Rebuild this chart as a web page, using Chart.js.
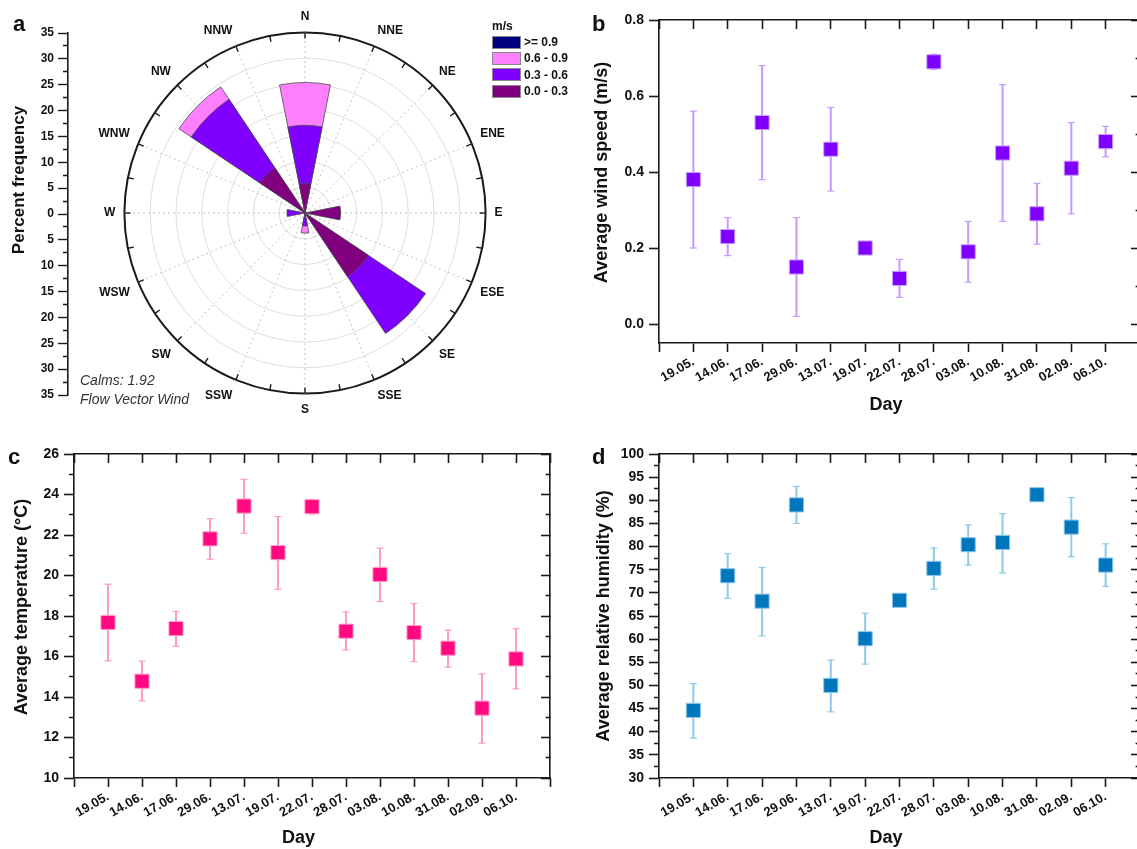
<!DOCTYPE html>
<html>
<head>
<meta charset="utf-8">
<title>Wind rose, wind speed, temperature and humidity</title>
<script src="https://cdn.jsdelivr.net/npm/chart.js@4.4.1/dist/chart.umd.min.js"></script>
<style>
  html, body { margin: 0; padding: 0; background: #fff; }
  body { width: 1137px; height: 849px; position: relative; overflow: hidden;
         font-family: "Liberation Sans", Arial, sans-serif; color: #111; }
  canvas { position: absolute; }
  .panel { position: absolute; font-size: 22px; font-weight: bold; line-height: 22px; }
  .note { position: absolute; left: 80px; top: 371px; font-size: 14px; font-style: italic;
          line-height: 19px; color: #333; }
  #roseLegend { position: absolute; left: 492px; top: 19px; font-size: 12px; font-weight: bold; }
  #roseLegend .ttl { height: 15px; line-height: 14px; }
  #roseLegend .row { height: 16.3px; display: flex; align-items: center; }
  #roseLegend .sw { display: inline-block; width: 29px; height: 13px; border: 1px solid #8a8a8a;
                    margin-right: 3px; box-sizing: border-box; }
</style>
</head>
<body>
<canvas id="rose" width="610" height="430" style="left:0;top:0"></canvas>
<canvas id="roseAxis" width="80" height="430" style="left:0;top:0"></canvas>
<canvas id="chartB" width="600" height="430" style="left:560px;top:0"></canvas>
<canvas id="chartC" width="570" height="419" style="left:0;top:430px"></canvas>
<canvas id="chartD" width="600" height="419" style="left:560px;top:430px"></canvas>

<div class="panel" style="left:13px;top:13px">a</div>
<div class="panel" style="left:592px;top:13px">b</div>
<div class="panel" style="left:8px;top:446px">c</div>
<div class="panel" style="left:592px;top:446px">d</div>
<div class="note">Calms: 1.92<br>Flow Vector Wind</div>
<div id="roseLegend"></div>

<script>
// ---- wind rose (percent frequency per direction and speed class) ----
const directions = ['N','NNE','NE','ENE','E','ESE','SE','SSE','S','SSW','SW','WSW','W','WNW','NW','NNW'];
const speedClasses = ['0.0 - 0.3', '0.3 - 0.6', '0.6 - 0.9', '>= 0.9'];
const speed00to03 = [5.7, 0, 0, 0, 6.9, 0, 14.8, 0, 0,   0, 0, 0, 0,   0, 10.5, 0];
const speed03to06 = [11.3, 0, 0, 0, 0,  0, 13.3, 0, 2.5, 0, 0, 0, 3.5, 0, 16.0, 0];
const speed06to09 = [8.3, 0, 0, 0, 0,   0, 0,    0, 1.4, 0, 0, 0, 0,   0, 2.9,  0];
const speed09up   = [0, 0, 0, 0, 0,     0, 0,    0, 0,   0, 0, 0, 0,   0, 0,    0];
const roseColors  = ['#800080', '#8000ff', '#ff80ff', '#000080'];

// ---- daily series ----
const days = ['19.05.','14.06.','17.06.','29.06.','13.07.','19.07.','22.07.','28.07.','03.08.','10.08.','31.08.','02.09.','06.10.'];

const windMean = [0.38, 0.23, 0.53, 0.15, 0.46, 0.20, 0.12, 0.69, 0.19, 0.45, 0.29, 0.41, 0.48];
const windLow  = [0.20, 0.18, 0.38, 0.02, 0.35, 0.20, 0.07, 0.67, 0.11, 0.27, 0.21, 0.29, 0.44];
const windHigh = [0.56, 0.28, 0.68, 0.28, 0.57, 0.20, 0.17, 0.71, 0.27, 0.63, 0.37, 0.53, 0.52];

const tempMean = [17.68, 14.78, 17.38, 21.81, 23.43, 21.13, 23.40, 17.25, 20.05, 17.18, 16.41, 13.45, 15.88];
const tempLow  = [15.79, 13.81, 16.51, 20.80, 22.09, 19.32, 23.04, 16.33, 18.71, 15.75, 15.47, 11.72, 14.40];
const tempHigh = [19.57, 15.77, 18.22, 22.81, 24.75, 22.91, 23.73, 18.20, 21.35, 18.62, 17.30, 15.14, 17.37];

const humMean = [44.6, 73.7, 68.2, 89.0, 50.0, 60.1, 68.4, 75.3, 80.4, 80.9, 91.2, 84.2, 76.0];
const humLow  = [38.6, 68.8, 60.7, 85.0, 44.3, 54.6, 67.0, 70.8, 76.0, 74.3, 91.2, 77.8, 71.4];
const humHigh = [50.4, 78.5, 75.5, 93.0, 55.5, 65.6, 69.7, 79.7, 84.7, 87.1, 91.2, 90.6, 80.6];

const FONT = '"Liberation Sans", Arial, sans-serif';
const INK = '#111';
const FRAME = '#1a1a1a';
Chart.defaults.font.family = FONT;
Chart.defaults.color = INK;

// stacked rose: each ring is drawn from the centre out to the running total
const speedRows = [speed00to03, speed03to06, speed06to09, speed09up];
const roseTotals = speedRows.map((row, k) => row.map((v, i) => {
  if (!v) return 0;
  let sum = 0;
  for (let j = 0; j <= k; j++) sum += speedRows[j][i];
  return sum;
}));

const roseDecor = {
  id: 'roseDecor',
  beforeDatasetsDraw(chart) {
    const r = chart.scales.r, ctx = chart.ctx, n = directions.length;
    ctx.save();
    ctx.strokeStyle = '#c4c4c4';
    ctx.lineWidth = 1;
    ctx.setLineDash([2, 3]);
    for (let i = 0; i < n; i++) {
      const p = r.getPointPosition(i, r.drawingArea, Math.PI / n);
      ctx.beginPath();
      ctx.moveTo(r.xCenter, r.yCenter);
      ctx.lineTo(p.x, p.y);
      ctx.stroke();
    }
    ctx.restore();
  },
  afterDraw(chart) {
    const r = chart.scales.r, ctx = chart.ctx, n = directions.length;
    ctx.save();
    ctx.strokeStyle = FRAME;
    ctx.lineWidth = 1.4;
    for (let i = 0; i < 2 * n; i++) {
      const a = r.getPointPosition(i / 2, r.drawingArea, Math.PI / n);
      const b = r.getPointPosition(i / 2, r.drawingArea - 6, Math.PI / n);
      ctx.beginPath();
      ctx.moveTo(a.x, a.y);
      ctx.lineTo(b.x, b.y);
      ctx.stroke();
    }
    ctx.restore();
  }
};

new Chart(document.getElementById('rose'), {
  type: 'polarArea',
  data: {
    labels: directions,
    datasets: speedClasses.map((lab, k) => ({
      label: lab,
      data: roseTotals[k],
      backgroundColor: roseColors[k],
      borderColor: '#4a4a4a',
      borderWidth: 0.8
    }))
  },
  options: {
    responsive: false,
    animation: false,
    events: [],
    layout: { padding: { left: 65, right: 65, top: 9, bottom: 13 } },
    plugins: { legend: { display: false }, tooltip: { enabled: false } },
    scales: {
      r: {
        min: 0,
        max: 35,
        startAngle: -11.25,
        ticks: { display: false, stepSize: 5 },
        grid: {
          color: c => c.tick && c.tick.value === 35 ? FRAME : '#dedede',
          lineWidth: c => c.tick && c.tick.value === 35 ? 2 : 1
        },
        angleLines: { display: false },
        pointLabels: {
          display: true,
          centerPointLabels: true,
          padding: 9,
          color: INK,
          font: { family: FONT, size: 12, weight: 'bold' }
        }
      }
    }
  },
  plugins: [roseDecor]
});

// legend for the rose, top entry = fastest class
const legendDiv = document.getElementById('roseLegend');
const ttl = document.createElement('div');
ttl.className = 'ttl';
ttl.textContent = 'm/s';
legendDiv.appendChild(ttl);
for (let k = speedClasses.length - 1; k >= 0; k--) {
  const row = document.createElement('div');
  row.className = 'row';
  const sw = document.createElement('span');
  sw.className = 'sw';
  sw.style.background = roseColors[k];
  row.appendChild(sw);
  row.appendChild(document.createTextNode(speedClasses[k]));
  legendDiv.appendChild(row);
}

// leading/trailing em spaces nudge a centred axis title along its axis
const EM = '\u2003', EN = '\u2002';

// mirrored percent-frequency axis next to the rose
new Chart(document.getElementById('roseAxis'), {
  type: 'scatter',
  data: { datasets: [] },
  options: {
    responsive: false,
    animation: false,
    events: [],
    layout: { padding: { top: 33, bottom: 35, left: 0, right: 0 } },
    plugins: { legend: { display: false }, tooltip: { enabled: false } },
    scales: {
      x: { display: false, min: 0, max: 1 },
      y: {
        min: -35,
        max: 35,
        afterFit: s => { s.width = 68; },
        ticks: {
          stepSize: 2.5,
          autoSkip: false,
          padding: 4,
          color: INK,
          font: { family: FONT, size: 12, weight: 'bold' },
          callback: v => (v % 5 === 0 ? Math.abs(v) : '')
        },
        grid: {
          drawOnChartArea: false,
          tickLength: 10,
          tickWidth: 1.4,
          tickColor: FRAME,
          tickBorderDash: c => (c.tick && c.tick.value % 5 !== 0 ? [0, 5, 5, 1000] : [])
        },
        border: { color: FRAME, width: 1.6 },
        title: {
          display: true,
          text: EM + EM + EM + EM + 'Percent frequency',
          color: INK,
          font: { family: FONT, size: 17, weight: 'bold' },
          padding: { top: 9, bottom: 0 }
        }
      }
    }
  }
});

// scatter with error bars, boxed frame with inward ticks on top/right
function dayChart(id, p) {
  const points = days.map((d, i) => ({ x: i + 1, y: p.mean[i] }));
  const bars = days.map((d, i) => ({ x: i + 1, y: [p.low[i], p.high[i]] }));
  const caps = [];
  days.forEach((d, i) => {
    caps.push({ x: i + 1, y: p.low[i] }, { x: i + 1, y: p.high[i] });
  });
  const ratio = Math.round(p.major / p.minor);
  const isMajor = v => Math.round(v / p.minor) % ratio === 0;
  const frame = { color: FRAME, width: 1.6 };
  const tickFont = { family: FONT, size: 14, weight: 'bold' };
  const titleFont = { family: FONT, size: 18, weight: 'bold' };

  new Chart(document.getElementById(id), {
    type: 'scatter',
    data: {
      datasets: [
        { data: points, pointStyle: 'rect', pointRadius: 10, backgroundColor: p.color,
          borderColor: p.edge, borderWidth: 1, order: 0 },
        { data: caps, pointStyle: 'line', pointRadius: 3.5, borderColor: p.err,
          borderWidth: 1.2, order: 1 },
        { type: 'bar', data: bars, backgroundColor: p.err, borderWidth: 0,
          barThickness: 1.4, order: 2 }
      ]
    },
    options: {
      responsive: false,
      animation: false,
      events: [],
      layout: { padding: 0 },
      plugins: { legend: { display: false }, tooltip: { enabled: false } },
      scales: {
        x: {
          type: 'linear',
          position: 'bottom',
          offset: false,
          min: 0,
          max: 14,
          afterFit: s => { s.height = p.bottomH; },
          ticks: {
            stepSize: 1,
            autoSkip: false,
            maxRotation: 30,
            minRotation: 30,
            padding: 2,
            color: INK,
            font: { family: FONT, size: 13, weight: 'bold' },
            callback: v => days[v - 1] || ''
          },
          grid: { offset: false, drawOnChartArea: false, tickLength: 9, tickWidth: 1.6, tickColor: FRAME },
          border: frame,
          title: { display: true, text: 'Day' + EM + EN, color: INK, font: titleFont,
                   padding: { top: 0, bottom: p.dayPad } }
        },
        xTop: {
          type: 'linear',
          position: 'top',
          offset: false,
          min: 0,
          max: 14,
          afterFit: s => { s.height = p.topH; },
          ticks: { display: false, stepSize: 1 },
          grid: { offset: false, drawOnChartArea: false, tickLength: -9, tickWidth: 1.6, tickColor: FRAME },
          border: frame
        },
        y: {
          min: p.min,
          max: p.max,
          afterFit: s => { s.width = p.leftW; },
          ticks: {
            stepSize: p.leftMinor ? p.minor : p.major,
            autoSkip: false,
            includeBounds: false,
            padding: 5,
            color: INK,
            font: tickFont,
            callback: v => (isMajor(v) ? v.toFixed(p.digits) : '')
          },
          grid: {
            drawOnChartArea: false,
            tickLength: 10,
            tickWidth: 1.6,
            tickColor: FRAME,
            tickBorderDash: c => (c.tick && !isMajor(c.tick.value) ? [0, 5, 5, 1000] : [])
          },
          border: frame,
          title: { display: true, text: p.yTitle, color: INK, font: titleFont,
                   padding: { top: p.titlePad, bottom: 0 } }
        },
        yRight: {
          type: 'linear',
          position: 'right',
          min: p.min,
          max: p.max,
          afterFit: s => { s.width = 20; },
          ticks: { display: false, stepSize: p.minor, autoSkip: false, includeBounds: false },
          grid: {
            drawOnChartArea: false,
            tickLength: -9,
            tickWidth: 1.6,
            tickColor: FRAME,
            tickBorderDash: c => (c.tick && !isMajor(c.tick.value) ? [5, 1000] : [])
          },
          border: frame
        }
      }
    }
  });
}

dayChart('chartB', {
  mean: windMean, low: windLow, high: windHigh,
  color: '#8000ff', edge: '#c9a3ff', err: '#c79cff',
  min: -0.05, max: 0.8, major: 0.2, minor: 0.1, leftMinor: false, digits: 1,
  yTitle: EM + 'Average wind speed (m/s)', titlePad: 31,
  leftW: 99, topH: 20, bottomH: 87, dayPad: 14
});

dayChart('chartC', {
  mean: tempMean, low: tempLow, high: tempHigh,
  color: '#ff0a80', edge: '#ff9cc8', err: '#ff9ac6',
  min: 10, max: 26, major: 2, minor: 1, leftMinor: true, digits: 0,
  yTitle: EM + 'Average temperature (°C)', titlePad: 11,
  leftW: 74, topH: 24, bottomH: 71, dayPad: 0
});

dayChart('chartD', {
  mean: humMean, low: humLow, high: humHigh,
  color: '#0076bd', edge: '#8cc6e8', err: '#92cbe9',
  min: 30, max: 100, major: 5, minor: 2.5, leftMinor: true, digits: 0,
  yTitle: 'Average relative humidity (%)', titlePad: 33,
  leftW: 99, topH: 24, bottomH: 71, dayPad: 0
});
</script>
</body>
</html>
